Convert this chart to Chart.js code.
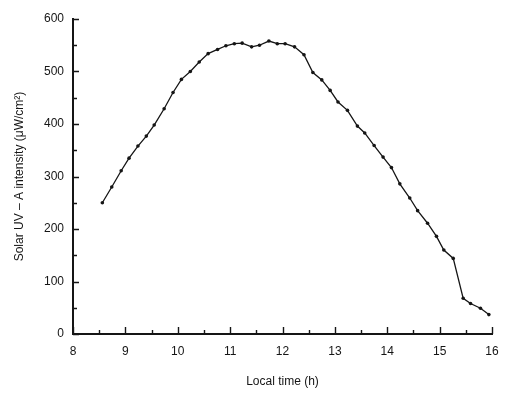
<!DOCTYPE html>
<html>
<head>
<meta charset="utf-8">
<script src="https://cdn.jsdelivr.net/npm/chart.js@4/dist/chart.umd.min.js"></script>
<style>
  html, body { margin: 0; padding: 0; background: #fff; }
  canvas { display: block; }
</style>
</head>
<body>
<canvas id="uvChart" width="512" height="393"></canvas>
<script>
// local time (h)
const times = [8.56, 8.74, 8.92, 9.07, 9.24, 9.40, 9.55, 9.74, 9.91, 10.07,
  10.24, 10.41, 10.58, 10.76, 10.92, 11.08, 11.23, 11.41, 11.56, 11.74,
  11.90, 12.05, 12.23, 12.41, 12.58, 12.75, 12.91, 13.06, 13.24, 13.43,
  13.57, 13.75, 13.92, 14.08, 14.24, 14.43, 14.58, 14.77, 14.94, 15.08,
  15.26, 15.45, 15.59, 15.78, 15.94];
// solar UV-A intensity (µW/cm²)
const uvA = [250, 280, 311, 335, 358, 377, 398, 429, 460, 485,
  500, 518, 534, 542, 549, 553, 554, 547, 550, 558,
  553, 553, 547, 532, 498, 484, 464, 442, 426, 396,
  383, 359, 337, 317, 286, 259, 235, 211, 186, 160,
  144, 68, 58, 49, 37];

const FONT = { family: "'Liberation Sans Narrow', 'Liberation Sans', Arial, sans-serif", size: 12 };
const INK = "#151515";

// ticks in the original point inward, so draw them ourselves from the scales
const inwardTicks = {
  id: "inwardTicks",
  afterDraw(chart) {
    const { ctx, scales: { x, y } } = chart;
    ctx.save();
    ctx.strokeStyle = INK;
    ctx.lineWidth = 1.4;
    ctx.beginPath();
    x.ticks.forEach((t) => {
      const px = Math.round(x.getPixelForValue(t.value)) + 0.5;
      const len = t.value % 1 === 0 ? 7 : 4;
      ctx.moveTo(px, x.top);
      ctx.lineTo(px, x.top - len);
    });
    y.ticks.forEach((t) => {
      const py = Math.round(y.getPixelForValue(t.value)) + 0.5;
      const len = t.value % 100 === 0 ? 6 : 4;
      ctx.moveTo(y.right, py);
      ctx.lineTo(y.right + len, py);
    });
    ctx.stroke();
    ctx.restore();
  },
};

new Chart(document.getElementById("uvChart").getContext("2d"), {
  type: "line",
  data: {
    datasets: [{
      data: times.map((t, i) => ({ x: t, y: uvA[i] })),
      borderColor: INK,
      borderWidth: 1.3,
      backgroundColor: INK,
      pointRadius: 1.8,
      pointBorderWidth: 0,
      tension: 0,
    }],
  },
  options: {
    responsive: false,
    animation: false,
    layout: { padding: { top: 19, right: 20, left: 0, bottom: 0 } },
    plugins: { legend: { display: false }, tooltip: { enabled: false } },
    scales: {
      x: {
        type: "linear",
        min: 8,
        max: 16,
        afterFit: (s) => { s.height = 59; },
        border: { display: true, color: INK, width: 2 },
        grid: { drawOnChartArea: false, drawTicks: false },
        ticks: {
          stepSize: 0.5,
          autoSkip: false,
          maxRotation: 0,
          padding: 10,
          color: INK,
          font: FONT,
          callback: (v) => (v % 1 === 0 ? v : ""),
        },
        title: { display: true, text: "Local time (h)", color: INK, font: FONT, padding: { top: 5 } },
      },
      y: {
        min: 0,
        max: 600,
        afterFit: (s) => { s.width = 73; },
        border: { display: true, color: INK, width: 2 },
        grid: { drawOnChartArea: false, drawTicks: false },
        ticks: {
          stepSize: 50,
          autoSkip: false,
          padding: 9,
          color: INK,
          font: FONT,
          callback: (v) => (v % 100 === 0 ? v : ""),
        },
        title: { display: true, text: "Solar UV – A intensity (μW/cm²)", color: INK, font: FONT, padding: { top: 12, bottom: 0 } },
      },
    },
  },
  plugins: [inwardTicks],
});
</script>
</body>
</html>
